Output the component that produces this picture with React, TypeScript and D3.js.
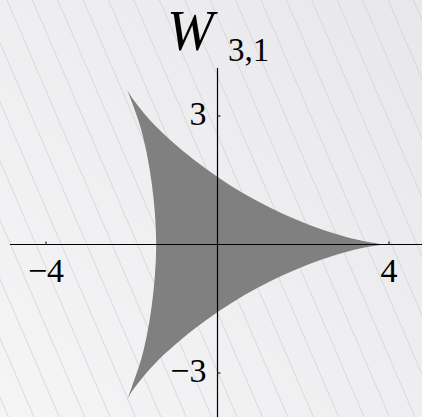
import React from "react";
import * as d3 from "d3";

const W = 422;
const H = 417;

// Outline of the filled region, split into its three edges (cusp to cusp)
const edgeTopX = [4.02, 3.75, 2.98, 1.86, 0.61, -0.55, -1.44, -1.96, -2.11];
const edgeTopY = [0, 0.02, 0.18, 0.57, 1.19, 1.98, 2.76, 3.38, 3.62];
const edgeLeftX = [-2.11, -2.0, -1.75, -1.53, -1.43, -1.53, -1.75, -2.0, -2.11];
const edgeLeftY = [3.62, 3.33, 2.57, 1.4, 0, -1.4, -2.57, -3.33, -3.62];
const edgeBottomX = [-2.11, -1.96, -1.44, -0.55, 0.61, 1.86, 2.98, 3.75, 4.02];
const edgeBottomY = [-3.62, -3.38, -2.76, -1.98, -1.19, -0.57, -0.18, -0.02, 0];

const xTicks = [-4, 4];
const yTicks = [-3, 3];
const xTickLabels = ["\u22124", "4"];
const yTickLabels = ["\u22123", "3"];

const titleMain = "W";
const titleSub = "3,1";

export default function App() {
  const x = d3.scaleLinear().domain([-4, 4]).range([46, 389]);
  const y = d3.scaleLinear().domain([-3, 3]).range([373, 116]);

  const line = d3
    .line<[number, number]>()
    .x((d) => x(d[0]))
    .y((d) => y(d[1]))
    .curve(d3.curveCatmullRom.alpha(0.5));

  const edges = [
    [edgeTopX, edgeTopY],
    [edgeLeftX, edgeLeftY],
    [edgeBottomX, edgeBottomY],
  ];
  const regionPath =
    edges
      .map(([xs, ys], i) => {
        const p = line(xs.map((v, j) => [v, ys[j]] as [number, number])) || "";
        return i === 0 ? p : "L" + p.slice(1);
      })
      .join("") + "Z";

  // diagonal background hatching
  const slope = 0.43;
  const spacing = 25.4;
  const hatch = d3.range(-8, 18).map((k) => {
    const x0 = 7 + spacing * k;
    return { x1: x0, y1: 0, x2: x0 + slope * H, y2: H };
  });

  const x0 = x(0);
  const y0 = y(0);
  const font = "'Liberation Serif', 'Times New Roman', serif";

  return (
    <svg
      width={W}
      height={H}
      style={{ position: "absolute", left: 0, top: 0, display: "block" }}
    >
      <defs>
        <linearGradient id="bg" x1="0" y1="1" x2="1" y2="0">
          <stop offset="0" stopColor="#f5f5f6" />
          <stop offset="1" stopColor="#e8e8eb" />
        </linearGradient>
      </defs>
      <rect x={0} y={0} width={W} height={H} fill="url(#bg)" />
      <g stroke="#d3d3d7" strokeWidth={0.8}>
        {hatch.map((h, i) => (
          <line key={i} x1={h.x1} y1={h.y1} x2={h.x2} y2={h.y2} />
        ))}
      </g>

      <path d={regionPath} fill="#808080" stroke="none" />

      {/* axes */}
      <line x1={10} x2={W} y1={y0} y2={y0} stroke="#000" strokeWidth={1.2} />
      <line x1={x0} x2={x0} y1={68} y2={H} stroke="#000" strokeWidth={1.2} />
      {xTicks.map((t) => (
        <line key={"xt" + t} x1={x(t)} x2={x(t)} y1={y0} y2={y0 - 3} stroke="#000" />
      ))}
      {yTicks.map((t) => (
        <line key={"yt" + t} x1={x0} x2={x0 + 3} y1={y(t)} y2={y(t)} stroke="#000" />
      ))}

      <g fontFamily={font} fontSize={34} fill="#000">
        {xTicks.map((t, i) => (
          <text key={"xl" + t} x={x(t)} y={y0 + 37} textAnchor="middle">
            {xTickLabels[i]}
          </text>
        ))}
        {yTicks.map((t, i) => (
          <text key={"yl" + t} x={x0 - 11} y={y(t) + 8.5} textAnchor="end">
            {yTickLabels[i]}
          </text>
        ))}
      </g>

      <text x={167} y={50} fontFamily={font} fontStyle="italic" fontSize={56} fill="#000">
        {titleMain}
      </text>
      <text x={228} y={61} fontFamily={font} fontSize={33} fill="#000">
        {titleSub}
      </text>
    </svg>
  );
}
